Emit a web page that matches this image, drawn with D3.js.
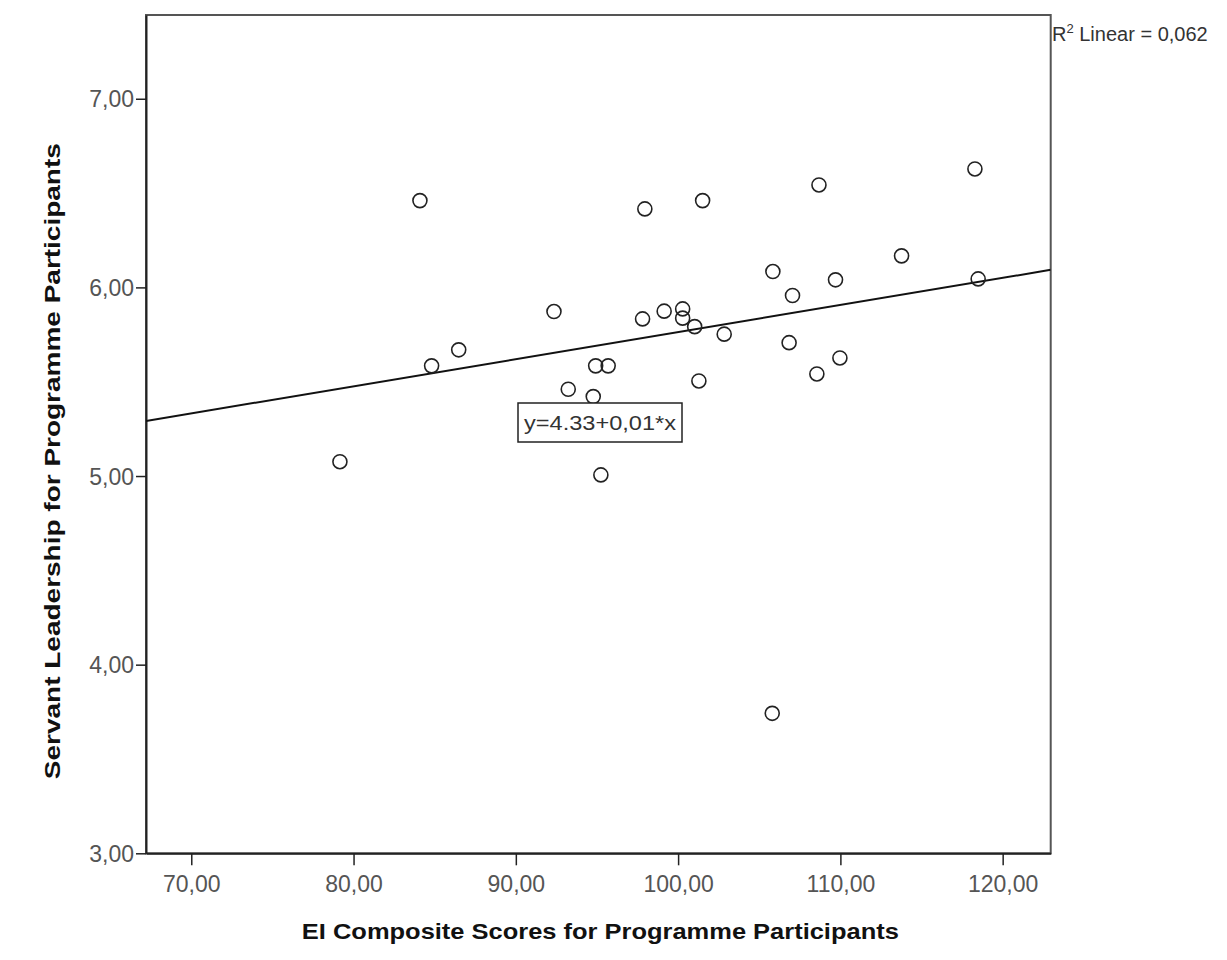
<!DOCTYPE html>
<html>
<head>
<meta charset="utf-8">
<script src="https://cdn.jsdelivr.net/npm/d3@7"></script>
<style>
  body { margin: 0; background: #fff; }
  svg { display: block; }
</style>
</head>
<body>
<div id="chart"></div>
<script>
// EI composite score per participant (x) and servant leadership score (y)
var eiScores = [79.16, 84.09, 84.81, 86.48, 92.35, 93.23, 94.77, 94.92, 95.69, 95.24,
                97.81, 97.95, 99.14, 100.28, 100.28, 101.02, 101.28, 101.51, 102.84, 105.80,
                105.84, 106.84, 107.05, 108.55, 108.68, 109.70, 109.97, 113.77, 118.29, 118.49];
var slScores = [5.076, 6.460, 5.584, 5.669, 5.872, 5.460, 5.421, 5.584, 5.584, 5.006,
                5.833, 6.416, 5.874, 5.886, 5.837, 5.792, 5.504, 6.460, 5.752, 3.742,
                6.084, 5.707, 5.957, 5.541, 6.543, 6.040, 5.626, 6.167, 6.628, 6.045];
var xTicks = [70, 80, 90, 100, 110, 120];
var yTicks = [3, 4, 5, 6, 7];
// fitted line as drawn
var fitIntercept = 4.326,
    fitSlope = 0.01437;
var eqLabel = 'y=4.33+0,01*x';
var r2Label = '0,062';

(function () {
    var W = 1227, H = 960;
    var pLeft = 146, pRight = 1050.7, pTop = 15, pBottom = 853.3;

    var svg = d3.select('#chart').append('svg')
        .attr('width', W)
        .attr('height', H);

    var x = d3.scaleLinear().domain([67.21, 122.96]).range([pLeft, pRight]);
    var y = d3.scaleLinear().domain([3, 7.444]).range([pBottom, pTop]);

    var fmt = function (d) { return d3.format('.2f')(d).replace('.', ','); };

    // frame
    svg.append('rect')
        .attr('x', pLeft).attr('y', pTop)
        .attr('width', pRight - pLeft).attr('height', pBottom - pTop)
        .attr('fill', '#fff')
        .attr('stroke', '#555')
        .attr('stroke-width', 2);

    svg.append('defs').append('clipPath').attr('id', 'plot')
        .append('rect')
        .attr('x', pLeft).attr('y', pTop)
        .attr('width', pRight - pLeft).attr('height', pBottom - pTop);

    // axes
    var xAxis = svg.append('g')
        .attr('transform', 'translate(0,' + pBottom + ')')
        .call(d3.axisBottom(x).tickValues(xTicks).tickFormat(fmt).tickSize(12).tickSizeOuter(0));
    var yAxis = svg.append('g')
        .attr('transform', 'translate(' + pLeft + ',0)')
        .call(d3.axisLeft(y).tickValues(yTicks).tickFormat(fmt).tickSize(10).tickSizeOuter(0));

    [xAxis, yAxis].forEach(function (g) {
        g.select('.domain').attr('stroke', '#222').attr('stroke-width', 2);
        g.selectAll('.tick line').attr('stroke', '#222').attr('stroke-width', 1.5);
        g.selectAll('.tick text')
            .attr('fill', '#555')
            .style('font-family', '"Liberation Sans", Arial, sans-serif')
            .style('font-size', '23px');
    });
    xAxis.selectAll('.tick text').attr('dy', '0.71em').attr('y', 22);
    yAxis.selectAll('.tick text').attr('x', -12).attr('dy', '0.35em');

    // fit line
    svg.append('line')
        .attr('clip-path', 'url(#plot)')
        .attr('x1', x(x.domain()[0]))
        .attr('y1', y(fitIntercept + fitSlope * x.domain()[0]))
        .attr('x2', x(x.domain()[1]))
        .attr('y2', y(fitIntercept + fitSlope * x.domain()[1]))
        .attr('stroke', '#111')
        .attr('stroke-width', 2);

    // points
    var pts = eiScores.map(function (v, i) { return { x: v, y: slScores[i] }; });
    svg.append('g').selectAll('circle')
        .data(pts).enter()
        .append('circle')
        .attr('cx', function (d) { return x(d.x); })
        .attr('cy', function (d) { return y(d.y); })
        .attr('r', 7)
        .attr('fill', 'none')
        .attr('stroke', '#222')
        .attr('stroke-width', 1.6);

    // equation box
    var eq = svg.append('g').attr('transform', 'translate(518,403)');
    eq.append('rect')
        .attr('width', 164).attr('height', 39)
        .attr('fill', '#fff')
        .attr('stroke', '#222')
        .attr('stroke-width', 1.5);
    eq.append('text')
        .attr('x', 82).attr('y', 27)
        .attr('text-anchor', 'middle')
        .attr('fill', '#333')
        .attr('textLength', 152)
        .attr('lengthAdjust', 'spacingAndGlyphs')
        .style('font-family', '"Liberation Sans", Arial, sans-serif')
        .style('font-size', '21px')
        .text(eqLabel);

    // R squared label
    var r2 = svg.append('text')
        .attr('x', 1052).attr('y', 41)
        .attr('fill', '#333')
        .style('font-family', '"Liberation Sans", Arial, sans-serif')
        .style('font-size', '20px');
    r2.append('tspan').text('R');
    r2.append('tspan').attr('dy', -8).style('font-size', '13px').text('2');
    r2.append('tspan').attr('dy', 8).text(' Linear = ' + r2Label);

    // axis titles
    svg.append('text')
        .attr('x', (pLeft + pRight) / 2 + 2).attr('y', 939)
        .attr('text-anchor', 'middle')
        .attr('fill', '#111')
        .attr('textLength', 597)
        .attr('lengthAdjust', 'spacingAndGlyphs')
        .style('font-family', '"Liberation Sans", Arial, sans-serif')
        .style('font-weight', 'bold')
        .style('font-size', '22px')
        .text('EI Composite Scores for Programme Participants');

    svg.append('text')
        .attr('transform', 'translate(60,' + ((pTop + pBottom) / 2 + 27) + ') rotate(-90)')
        .attr('text-anchor', 'middle')
        .attr('fill', '#111')
        .attr('textLength', 636)
        .attr('lengthAdjust', 'spacingAndGlyphs')
        .style('font-family', '"Liberation Sans", Arial, sans-serif')
        .style('font-weight', 'bold')
        .style('font-size', '22px')
        .text('Servant Leadership for Programme Participants');
})();
</script>
</body>
</html>
